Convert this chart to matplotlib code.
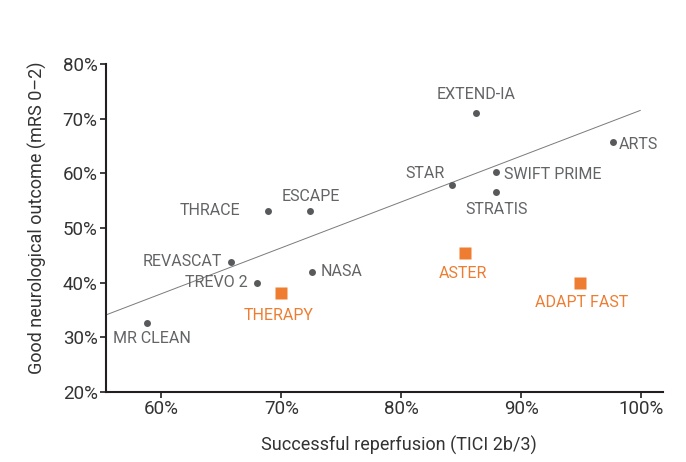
import matplotlib
matplotlib.use("Agg")
import matplotlib.pyplot as plt
from matplotlib.ticker import FuncFormatter

plt.rcParams['font.family'] = ['Roboto', 'DejaVu Sans']

# Trials with device (grey circles)
trials = ["MR CLEAN", "REVASCAT", "TREVO 2", "NASA", "THRACE", "ESCAPE",
          "EXTEND-IA", "ARTS", "STAR", "SWIFT PRIME", "STRATIS"]
trial_x = [58.8, 65.8, 68.0, 72.6, 68.9, 72.4, 86.2, 97.6, 84.2, 87.9, 87.9]
trial_y = [32.7, 43.8, 40.0, 42.0, 53.1, 53.1, 71.0, 65.7, 57.9, 60.2, 56.6]

# Aspiration trials (orange squares)
asp = ["THERAPY", "ASTER", "ADAPT FAST"]
asp_x = [70.0, 85.3, 94.9]
asp_y = [38.2, 45.4, 40.0]

# regression line endpoints
fit_x = [55.4, 99.9]
fit_y = [34.1, 71.5]

# label placement: (ha, dx px, dy px)
trial_lab = [("center", 5, -16), ("right", -9, 0), ("right", -9, 0), ("left", 8, 0),
             ("right", -28, 1), ("center", 1, 15), ("center", 0, 19), ("left", 6, -2),
             ("right", -7, 11), ("left", 8, -2), ("center", 0, -18)]
asp_lab = [("center", -3, -23), ("center", -2, -20), ("center", 1, -20)]

GREY = "#636466"
DOT = "#58595b"
ORANGE = "#ee7d31"

fig = plt.figure(figsize=(6.86, 4.62), dpi=100)
ax = fig.add_axes([0.1545, 0.1515, 0.812, 0.71])

ax.plot(fit_x, fit_y, color="#7a7a7a", lw=0.7, zorder=1)
ax.plot(trial_x, trial_y, "o", color=DOT, ms=5, mec="none", zorder=3)
ax.plot(asp_x, asp_y, "s", color=ORANGE, ms=8, mec="none", zorder=3)

for name, x, y, (ha, dx, dy) in zip(trials, trial_x, trial_y, trial_lab):
    ax.annotate(name, (x, y), xytext=(dx, dy), textcoords="offset pixels",
                ha=ha, va="center", fontsize=11.5, color=GREY)
for name, x, y, (ha, dx, dy) in zip(asp, asp_x, asp_y, asp_lab):
    ax.annotate(name, (x, y), xytext=(dx, dy), textcoords="offset pixels",
                ha=ha, va="center", fontsize=11.5, color=ORANGE)

ax.set_xlim(55.4, 101.8)
ax.set_ylim(20, 80)
ax.set_xticks([60, 70, 80, 90, 100])
ax.set_yticks([20, 30, 40, 50, 60, 70, 80])
pct = FuncFormatter(lambda v, p: f"{v:.0f}%")
ax.xaxis.set_major_formatter(pct)
ax.yaxis.set_major_formatter(pct)

for s in ["top", "right"]:
    ax.spines[s].set_visible(False)
for s in ["left", "bottom"]:
    ax.spines[s].set_linewidth(1.5)
    ax.spines[s].set_color("#231f20")
ax.tick_params(length=4, width=1.2, color="#231f20", labelsize=13.5, labelcolor="#333333", pad=2)

ax.set_xlabel("Successful reperfusion (TICI 2b/3)", fontsize=13, color="#333333")
ax.set_ylabel("Good neurological outcome (mRS 0–2)", fontsize=13, color="#333333")
ax.xaxis.set_label_coords(0.526, -0.134)
ax.yaxis.set_label_coords(-0.105, 0.53)

fig.savefig("out.png", dpi=100)
